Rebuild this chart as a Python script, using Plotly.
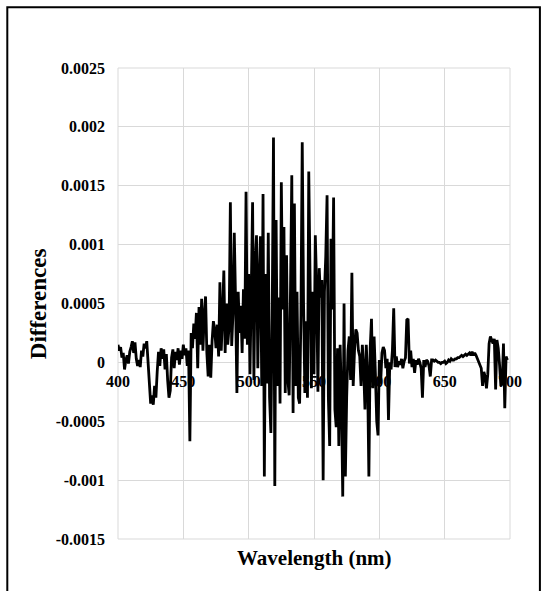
import plotly.graph_objects as go

# Wavelength grid (nm) and spectral differences
wavelength = list(range(400, 699))

differences = [
    # 400-419
    0.00015, 0.00010, 0.00013, 0.00004, 0.00008, -0.00006, 0.00002, 0.00006, -0.00001, 0.00009,
    0.00013, 0.00018, 0.00008, 0.00017, 0.00003, -0.00003, 0.00002, -0.00004, 0.00010, 0.00005,
    # 420-439
    0.00016, 0.00012, 0.00018, 0.00001, -0.00021, -0.00035, -0.00028, -0.00036, -0.00020, -0.00030,
    -0.00008, 0.00009, -0.00003, 0.00012, 0.00003, 0.00011, -0.00006, 0.00007, -0.00015, -0.00030,
    # 440-459
    -0.00024, 0.00004, 0.00011, -0.00005, 0.00009, 0.00002, 0.00012, -0.00002, 0.00010, 0.00003,
    0.00015, 0.00006, 0.00012, -0.00003, 0.00010, -0.00067, 0.00025, 0.00012, 0.00033, 0.00020,
    # 460-479
    0.00042, -0.00005, 0.00047, 0.00015, 0.00054, 0.00010, 0.00040, 0.00056, 0.00008, -0.00012,
    0.00015, -0.00013, 0.00018, 0.00035, 0.00028, 0.00012, 0.00032, 0.00005, 0.00068, 0.00010,
    # 480-499
    0.00040, 0.00078, 0.00008, 0.00050, 0.00015, 0.00030, 0.00136, 0.00014, 0.00042, 0.00110,
    0.00050, -0.00026, 0.00060, 0.00025, 0.00048, 0.00008, 0.00062, 0.00020, 0.00145, 0.00015,
    # 500-519
    0.00075, -0.00010, 0.00060, 0.00136, -0.00015, 0.00085, 0.00108, -0.00005, 0.00070, 0.00107,
    -0.00020, 0.00143, -0.00097, 0.00075, -0.00018, 0.00110, -0.00030, -0.00060, 0.00040, 0.00191,
    # 520-539
    -0.00105, 0.00121, -0.00020, 0.00055, -0.00035, 0.00153, 0.00045, 0.00115, -0.00026, 0.00091,
    -0.00015, -0.00028, 0.00060, 0.00159, -0.00043, 0.00135, -0.00020, 0.00060, -0.00030, -0.00035,
    # 540-559
    0.00040, 0.00187, 0.00050, -0.00026, 0.00035, -0.00030, 0.00162, 0.00080, -0.00022, 0.00060,
    -0.00010, 0.00108, 0.00065, -0.00025, 0.00080, 0.00055, 0.00070, -0.00100, 0.00060, 0.00090,
    # 560-579
    0.00142, -0.00030, -0.00071, 0.00105, 0.00045, 0.00140, -0.00040, -0.00055, 0.00012, -0.00071,
    0.00015, -0.00030, -0.00114, 0.00050, -0.00097, -0.00030, 0.00010, 0.00022, -0.00015, 0.00076,
    # 580-599
    -0.00020, 0.00010, 0.00028, 0.00025, 0.00010, 0.00005, -0.00020, 0.00015, -0.00005, -0.00040,
    0.00015, -0.00010, -0.00097, 0.00012, 0.00037, -0.00022, 0.00022, -0.00010, -0.00050, -0.00062,
    # 600-619
    0.00002, -0.00018, 0.00008, 0.00013, 0.00010, -0.00005, 0.00003, -0.00049, 0.00000, -0.00006,
    0.00010, 0.00046, -0.00004, 0.00005, -0.00004, 0.00001, -0.00002, 0.00003, -0.00005, 0.00001,
    # 620-639
    0.00004, 0.00036, 0.00037, -0.00001, 0.00010, -0.00004, 0.00003, -0.00009, 0.00002, -0.00002,
    0.00003, 0.00000, -0.00005, -0.00030, 0.00002, -0.00004, 0.00002, 0.00001, -0.00003, -0.00012,
    # 640-659
    0.00002, 0.00002, 0.00001, 0.00002, 0.00001, 0.00000, 0.00000, -0.00001, 0.00000, 0.00000,
    0.00001, -0.00001, 0.00000, 0.00002, 0.00001, 0.00003, 0.00002, 0.00002, 0.00003, 0.00003,
    # 660-679
    0.00004, 0.00004, 0.00005, 0.00006, 0.00005, 0.00006, 0.00007, 0.00006, 0.00007, 0.00008,
    0.00006, 0.00009, 0.00006, 0.00008, 0.00006, 0.00003, 0.00000, -0.00003, -0.00005, -0.00020,
    # 680-698
    -0.00008, -0.00012, -0.00022, -0.00010, 0.00016, 0.00022, 0.00018, 0.00016, 0.00020, -0.00023,
    0.00019, 0.00012, -0.00002, -0.00020, -0.00018, 0.00016, -0.00039, 0.00005, 0.00002,
]

x_ticks = [400, 450, 500, 550, 600, 650, 700]
y_ticks = [-0.0015, -0.001, -0.0005, 0, 0.0005, 0.001, 0.0015, 0.002, 0.0025]
y_tick_text = ["-0.0015", "-0.001", "-0.0005", "0", "0.0005", "0.001", "0.0015", "0.002", "0.0025"]

serif = "Liberation Serif"
grid = "#d9d9d9"

fig = go.Figure()
fig.add_trace(go.Scatter(
    x=wavelength, y=differences, mode="lines",
    line=dict(color="black", width=2.8),
    showlegend=False, hoverinfo="x+y",
))

y_min, y_max = -0.0015, 0.0025

fig.update_layout(
    width=543, height=591,
    margin=dict(l=117.5, r=32.5, t=67.5, b=51.5),
    paper_bgcolor="white", plot_bgcolor="white",
    xaxis=dict(
        range=[400, 700], tickvals=x_ticks, ticktext=[str(v) for v in x_ticks],
        showgrid=True, gridcolor=grid, gridwidth=1,
        zeroline=False, showline=False, ticks="",
        anchor="free", position=(0 - y_min) / (y_max - y_min),
        tickfont=dict(family=serif, size=16, color="black", weight="bold"),
        ticklabelstandoff=8,
    ),
    yaxis=dict(
        range=[y_min, y_max], tickvals=y_ticks, ticktext=y_tick_text,
        showgrid=True, gridcolor=grid, gridwidth=1,
        zeroline=False, showline=False, ticks="",
        tickfont=dict(family=serif, size=16, color="black", weight="bold"),
        ticklabelstandoff=12,
    ),
)

# plot-area outline in grid colour
fig.add_shape(type="rect", xref="paper", yref="paper", x0=0, y0=0, x1=1, y1=1,
              line=dict(color=grid, width=1), layer="below")

# axis titles
fig.add_annotation(text="Wavelength (nm)", xref="paper", yref="paper",
                   x=0.5, y=-0.0413, xanchor="center", yanchor="middle",
                   showarrow=False,
                   font=dict(family=serif, size=21, color="black", weight="bold"))
fig.add_annotation(text="Differences", xref="paper", yref="paper",
                   x=-0.2023, y=0.5, xanchor="center", yanchor="middle",
                   textangle=-90, showarrow=False,
                   font=dict(family=serif, size=23, color="black", weight="bold"))

# outer chart frame
fig.add_shape(type="rect", xref="paper", yref="paper",
              x0=-0.2824, y0=-0.25, x1=1.0763, y1=1.1292,
              line=dict(color="black", width=2), layer="above")

fig.write_html("out.html")
